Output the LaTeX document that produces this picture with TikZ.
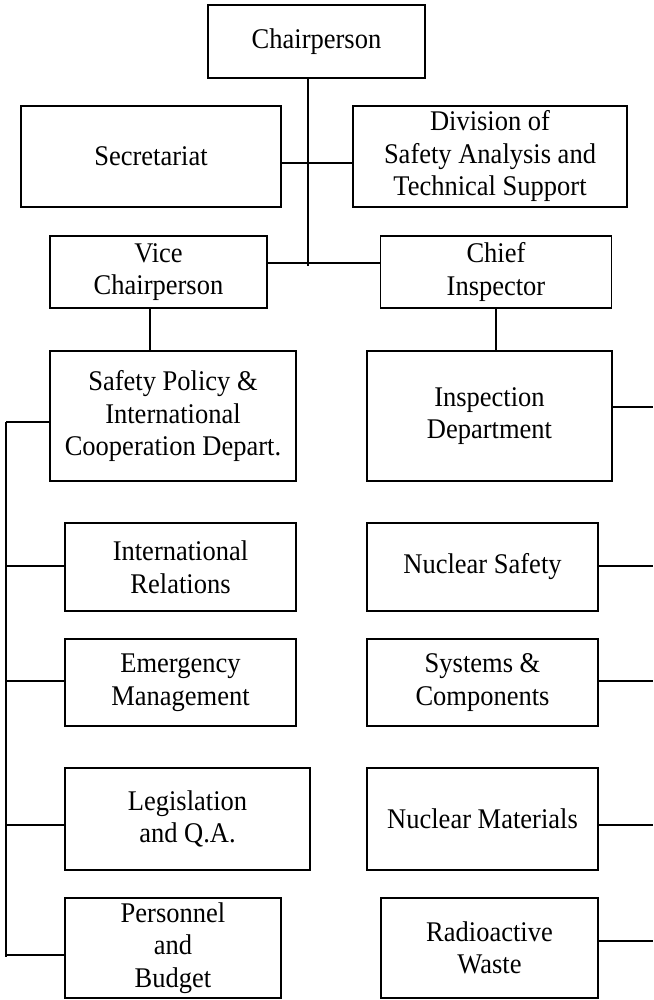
\documentclass[tikz,border=0pt]{standalone}
\usepackage{fontspec}
\setmainfont{Liberation Serif}[FakeStretch=0.93]
\begin{document}
\begin{tikzpicture}[x=1pt,y=-1pt,
  unit/.style={draw, line width=1.2pt, inner sep=0pt, align=center,
    font=\fontsize{28.5}{32.5}\selectfont},
  link/.style={line width=1.2pt}]
\useasboundingbox (0,0) rectangle (653,1000);
% top management
\node[unit, minimum width=217, minimum height=73] (chair) at (316.5,41.5) {Chairperson};
\node[unit, minimum width=260, minimum height=101] (secr) at (151,156.5) {Secretariat};
\node[unit, minimum width=274, minimum height=101] (div) at (490,156.5) {Division of\\Safety Analysis and\\Technical Support};
\node[unit, minimum width=217, minimum height=72] (vice) at (158.5,272) {Vice\\Chairperson};
\node[unit, minimum width=231, minimum height=72] (chief) at (496,272) {Chief\\Inspector};
% departments
\node[unit, minimum width=246, minimum height=130] (spd) at (173,416) {Safety Policy \&\\International\\Cooperation Depart.};
\node[unit, minimum width=245, minimum height=130] (insp) at (489.5,416) {Inspection\\Department};
% sections of the safety policy department
\node[unit, minimum width=231, minimum height=88] (intrel) at (180.5,567) {International\\Relations};
\node[unit, minimum width=231, minimum height=87] (emerg) at (180.5,682.5) {Emergency\\Management};
\node[unit, minimum width=245, minimum height=102] (legis) at (187.5,819) {Legislation\\and Q.A.};
\node[unit, minimum width=216, minimum height=100] (pers) at (173,948) {Personnel\\and\\Budget};
% sections of the inspection department
\node[unit, minimum width=231, minimum height=88] (nucsaf) at (482.5,567) {Nuclear Safety};
\node[unit, minimum width=231, minimum height=87] (sys) at (482.5,682.5) {Systems \&\\Components};
\node[unit, minimum width=231, minimum height=102] (nucmat) at (482.5,819) {Nuclear Materials};
\node[unit, minimum width=217, minimum height=100] (radio) at (489.5,948) {Radioactive\\Waste};
% trunk and bus coordinates
\coordinate (trunkend) at (308,266);
\coordinate (bustop) at (6,422);
\coordinate (busbot) at (6,957);
\coordinate (redge) at (653,0);
% central trunk from the chairperson
\draw[link] (chair.south -| trunkend) -- (trunkend);
\draw[link] ([yshift=-6.5pt]secr.east) -- ([yshift=-6.5pt]div.west);
\draw[link] ([yshift=9pt]vice.east) -- ([yshift=9pt]chief.west);
\draw[link] ([xshift=-8.5pt]vice.south) -- ([xshift=-8.5pt]vice.south |- spd.north);
\draw[link] (chief.south) -- (chief.south |- insp.north);
% left bus
\draw[link] (bustop) -- (busbot);
\draw[link] (bustop) -- (bustop -| spd.west);
\draw[link] ([yshift=1pt]intrel.west) -- ([yshift=1pt]intrel.west -| bustop);
\draw[link] ([yshift=1.5pt]emerg.west) -- ([yshift=1.5pt]emerg.west -| bustop);
\draw[link] ([yshift=-6pt]legis.west) -- ([yshift=-6pt]legis.west -| bustop);
\draw[link] ([yshift=-7pt]pers.west) -- ([yshift=-7pt]pers.west -| bustop);
% right-hand stubs
\draw[link] ([yshift=9pt]insp.east) -- ([yshift=9pt]insp.east -| redge);
\draw[link] ([yshift=1pt]nucsaf.east) -- ([yshift=1pt]nucsaf.east -| redge);
\draw[link] ([yshift=1.5pt]sys.east) -- ([yshift=1.5pt]sys.east -| redge);
\draw[link] ([yshift=-6pt]nucmat.east) -- ([yshift=-6pt]nucmat.east -| redge);
\draw[link] ([yshift=7pt]radio.east) -- ([yshift=7pt]radio.east -| redge);
\end{tikzpicture}
\end{document}
